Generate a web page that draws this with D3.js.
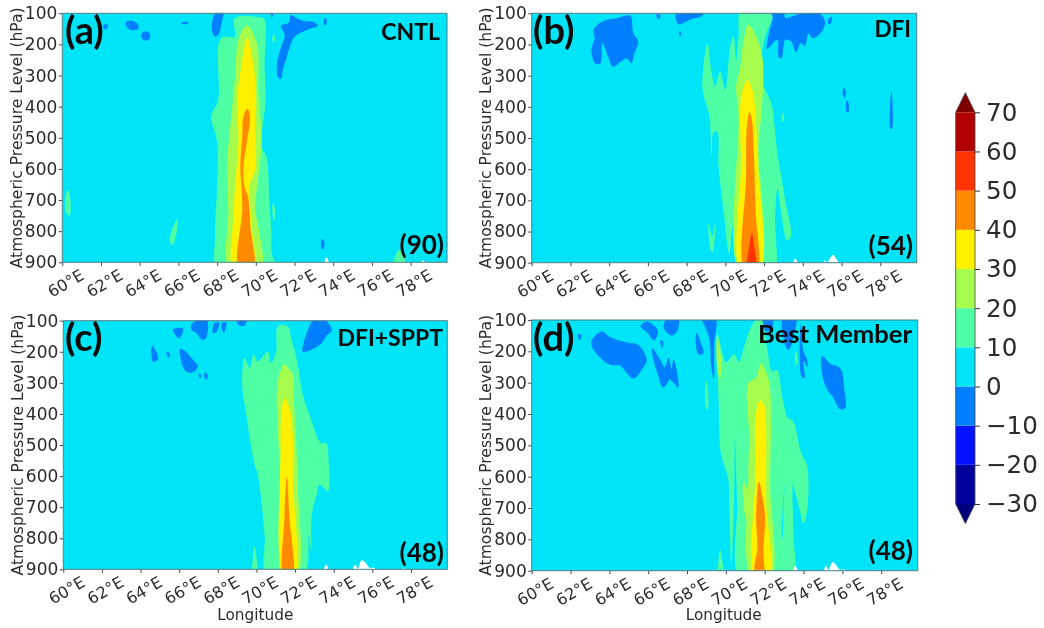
<!DOCTYPE html>
<html>
<head>
<meta charset="utf-8">
<script src="https://cdn.jsdelivr.net/npm/d3@7/dist/d3.min.js"></script>
<style>
  html, body { margin: 0; padding: 0; background: #fff; }
  svg { display: block; filter: blur(0.6px); }
  text { font-family: "DejaVu Sans", sans-serif; fill: #2b2b2b; }
  .note { font-family: Lato, "Open Sans", sans-serif; font-weight: 700; fill: #0a0a0a; }
</style>
</head>
<body>
<svg id="canvas" width="1044" height="628"></svg>
<script>
'use strict';

/* longitude ticks, pressure ticks and colour levels */
const lonTicks = [60, 62, 64, 66, 68, 70, 72, 74, 76, 78];
const pressureTicks = [100, 200, 300, 400, 500, 600, 700, 800, 900];
const levelTicks = [-30, -20, -10, 0, 10, 20, 30, 40, 50, 60, 70];
const levelColors = ['#00009c', '#0012ff', '#0080ff', '#00e4f8', '#4fffa4', '#a6fc4c', '#fff000', '#ff8a00', '#ff3400', '#b00000'];

/* contour outlines, as [longitude, hPa] */
const panelABelow0 = [
  [[63.3,128],[63.6,124],[63.9,135],[63.92,150],[63.5,153],[63.3,140]],
  [[64.1,165],[64.35,158],[64.55,172],[64.4,187],[64.15,183]],
  [[66.15,130],[66.5,128],[66.45,134],[66.2,134]],
  [[68,92],[68.3,95],[68.2,140],[68.1,165],[67.9,175],[67.75,160],[67.75,125]],
  [[71.8,105],[72.1,115],[72.5,125],[73,128],[73.2,140],[72.8,150],[72.4,160],[72,175],[71.8,200],[71.6,240],[71.4,280],[71.3,310],[71.15,305],[71.1,260],[71.3,210],[71.5,170],[71.3,140],[71.7,130]],
  [[62.1,140],[62.35,135],[62.3,150],[62.15,150]],
  [[70.75,100],[70.9,102],[70.85,112]],
  [[73.55,115],[73.65,118],[73.62,138],[73.52,135]],
  [[73.4,826],[73.52,830],[73.52,855],[73.42,858]]
];
const panelA10 = [
  [[68.9,116],[70.2,113],[70.45,120],[70.45,270],[70.5,380],[70.3,530],[70.55,560],[70.7,700],[70.8,805],[70.85,880],[71.2,925],[68.05,925],[67.9,805],[68,655],[68,515],[67.7,430],[68.05,380],[68.2,180],[68.9,175]],
  [[60.3,668],[60.42,700],[60.38,750],[60.2,740],[60.15,700]],
  [[65.95,760],[65.92,800],[65.7,845],[65.55,830],[65.7,790]],
  [[70.9,168],[71,180],[70.92,196],[70.85,180]],
  [[70.9,705],[71,735],[70.95,768],[70.85,735]],
  [[77.4,860],[77.6,870],[77.7,920],[77.1,920]]
];
const panelA20 = [
  [[69.53,138],[69.1,186],[68.93,303],[68.67,475],[68.53,571],[68.58,731],[68.67,925],[70.25,925],[70.13,785],[69.96,731],[70.13,624],[70.3,517],[70.13,357],[70.05,196]]
];
const panelA30 = [
  [[69.56,180],[69.27,261],[69.06,368],[69.1,517],[68.93,656],[68.84,753],[68.87,925],[69.87,925],[69.79,785],[69.7,650],[69.96,603],[69.96,464],[70,357],[69.87,261]]
];
const panelA40 = [
  [[69.56,407],[69.36,432],[69.3,496],[69.2,592],[69.27,667],[69.3,731],[69.13,925],[69.87,925],[69.72,785],[69.6,689],[69.42,660],[69.36,592],[69.53,517],[69.7,432]]
];
const panelAWhite = [
  [[73.55,905],[73.65,884],[73.78,905]],
  [[78.55,905],[78.65,893],[78.75,905]]
];

const panelBBelow0 = [
  [[63.19,153],[63.7,125],[64.39,116],[65.08,107],[65.25,164],[65.5,190],[65.3,230],[65.15,260],[64.9,245],[64.6,255],[64.2,272],[63.95,240],[63.65,195],[63.55,260],[63.3,262],[63.08,220],[63.25,180]],
  [[67.5,92],[68.9,92],[68.8,108],[68.2,120],[67.6,135],[67.45,120]],
  [[66.45,102],[66.65,104],[66.6,118],[66.48,115]],
  [[72.4,92],[73,92],[73.1,115],[73.5,108],[74.6,92],[75,108],[75.15,130],[74.9,165],[74.5,180],[74.3,165],[74.1,205],[73.9,195],[73.65,225],[73.4,190],[73.1,185],[72.9,245],[72.75,240],[72.7,185],[72.55,190],[72.15,215],[72.3,150],[72.45,115]],
  [[75.35,115],[75.5,112],[75.42,135],[75.3,132]],
  [[76.1,340],[76.2,345],[76.18,370],[76.08,365]],
  [[76.25,380],[76.35,385],[76.35,418],[76.25,415]],
  [[78.5,400],[78.58,350],[78.64,400],[78.6,470],[78.52,470]],
  [[67.62,158],[67.72,160],[67.7,172],[67.62,170]]
];
const panelB10 = [
  [[69.08,196],[69.28,285],[69.47,335],[69.73,287],[69.99,346],[70.25,207],[70.42,173],[70.56,250],[70.68,175],[70.8,92],[71.71,92],[72.4,105],[72.06,175],[71.88,229],[71.88,314],[72.23,368],[72.4,394],[72.69,549],[73.09,699],[73.38,817],[73.18,828],[72.87,731],[72.69,660],[72.57,760],[72.55,925],[72.08,925],[71.97,790],[71.85,925],[70.76,925],[70.42,774],[70.2,870],[69.9,731],[69.65,590],[69.58,480],[69.4,480],[69.28,560],[69.18,432],[68.82,341]],
  [[69.13,774],[69.33,815],[69.48,772],[69.45,820],[69.35,865],[69.25,860]],
  [[72.97,420],[73.04,435],[72.98,450],[72.92,435]]
];
const panelB20 = [
  [[71.2,137],[70.95,185],[70.76,277],[70.56,330],[70.68,432],[70.72,925],[71.76,925],[71.71,517],[71.88,410],[71.88,229]]
];
const panelB30 = [
  [[71.14,314],[70.85,357],[70.76,432],[70.82,571],[70.8,925],[71.76,925],[71.66,571],[71.54,410],[71.45,357]]
];
const panelB40 = [
  [[71.25,416],[71.11,464],[71.07,624],[71,925],[71.63,925],[71.56,731],[71.45,517],[71.37,442]]
];
const panelB50 = [
  [[71.37,806],[71.2,860],[71.14,925],[71.59,925],[71.52,860]]
];
const panelBWhite = [
  [[73.5,905],[73.62,886],[73.72,905]],
  [[75.05,905],[75.15,893],[75.25,905]],
  [[75.3,905],[75.55,875],[75.75,890],[75.85,905]]
];

const panelCBelow0 = [
  [[65.68,128],[66.2,125],[66,157]],
  [[66.63,112],[67.4,92],[67.4,155],[67.2,162],[66.9,140],[66.65,130]],
  [[67.8,110],[68.05,105],[67.95,135],[67.75,140]],
  [[68.2,108],[68.45,105],[68.3,140]],
  [[68.95,92],[69.47,92],[69.4,115],[69.1,115]],
  [[64.6,180],[64.85,205],[64.9,225],[64.65,232],[64.55,205]],
  [[65.35,200],[65.5,205],[65.5,218],[65.38,212]],
  [[66.05,190],[66.35,200],[66.7,225],[66.97,245],[66.75,265],[66.4,265],[66.15,240]],
  [[67,272],[67.15,275],[67.1,285]],
  [[67.32,265],[67.48,275],[67.42,290],[67.32,285]],
  [[72.4,200],[72.45,170],[72.7,125],[73,92],[73.5,95],[73.9,130],[73.6,150],[73.4,170],[72.95,190]]
];
const panelC10 = [
  [[71.11,118],[71.62,118],[71.8,156],[71.97,193],[72.14,242],[72.4,338],[72.74,402],[73.35,494],[73.61,494],[73.74,553],[73.69,649],[73.26,628],[73.12,660],[72.86,724],[72.83,842],[72.71,789],[72.43,925],[70.54,925],[70.42,789],[70.07,596],[69.9,563],[69.47,402],[69.26,306],[69.39,220],[69.64,252],[69.85,209],[70.07,231],[70.59,199],[70.76,236],[71.02,199]],
  [[69.9,826],[70.02,870],[70.05,925],[69.78,925],[69.8,870]]
];
const panelC20 = [
  [[71.45,241],[71.11,295],[71.07,413],[71.28,628],[71.37,925],[72.09,925],[72.14,628],[71.93,349],[71.88,274],[71.71,258]]
];
const panelC30 = [
  [[71.45,349],[71.28,413],[71.25,520],[71.42,925],[71.97,925],[71.88,606],[71.88,467],[71.71,381]]
];
const panelC40 = [
  [[71.57,601],[71.45,735],[71.42,925],[71.85,925],[71.71,735]]
];
const panelCWhite = [
  [[73.5,905],[73.6,884],[73.72,905]],
  [[75,905],[75.12,885],[75.25,897],[75.45,870],[75.7,883],[75.85,895],[76.1,896],[76.15,905]],
  [[77.5,905],[77.6,896],[77.72,905]]
];

const panelDBelow0 = [
  [[63.09,165],[63.6,137],[64.04,155],[64.9,172],[65.5,180],[65.93,228],[65.76,250],[65.25,287],[64.9,270],[64.55,245],[64.04,243],[63.61,225],[63.1,185]],
  [[65.6,120],[65.95,105],[66.5,135],[66.3,165],[65.95,140]],
  [[66.8,125],[67,92],[67.55,92],[67.5,135],[67.2,150]],
  [[66.2,190],[66.6,225],[66.85,250],[67.05,220],[67.2,255],[67.3,225],[67.5,270],[67.55,315],[67.3,300],[67.1,290],[66.95,305],[66.75,315],[66.5,275],[66.3,235]],
  [[68.5,140],[68.7,170],[68.85,205],[68.6,210],[68.45,180]],
  [[68.75,92],[69.45,92],[69.4,180],[69.38,290],[69.25,250],[69.15,160],[68.95,125]],
  [[62.4,145],[62.55,148],[62.5,165],[62.42,160]],
  [[66.62,165],[66.78,170],[66.72,190]],
  [[71.8,92],[72.4,92],[72.35,130],[72,135]],
  [[72.95,92],[73.6,92],[73.5,150],[73.3,190],[73.2,195],[73,170]],
  [[73.87,110],[74,200],[74.2,230],[74.2,250],[74,230],[74.05,285],[73.9,280],[73.8,200]],
  [[74.95,215],[75.4,240],[75.9,255],[76.1,320],[76.15,380],[75.9,385],[75.5,345],[75.25,325],[75,285]]
];
const panelD10 = [
  [[69.56,142],[69.8,200],[70,235],[70.42,210],[70.68,233],[70.94,185],[71.4,110],[71.8,92],[71.95,120],[72.15,200],[72.4,265],[72.63,259],[72.92,350],[73.21,415],[73.44,420],[73.87,522],[74.18,564],[74.21,696],[74,749],[73.8,706],[73.57,650],[73.45,625],[73.48,780],[73.5,925],[73,925],[72.95,760],[73.02,625],[72.88,760],[72.85,925],[70.75,925],[70.58,680],[70.47,480],[70.42,680],[70.28,877],[70.18,700],[70.13,610],[69.73,522],[69.65,393]],
  [[69,295],[69.1,340],[69.05,390],[68.95,370],[68.93,330]],
  [[69.7,832],[69.85,880],[69.9,925],[69.55,925],[69.6,880]],
  [[73.6,200],[73.7,225],[73.62,245],[73.55,225]]
];
const panelD20 = [
  [[71.8,238],[71.54,286],[71.16,302],[71.2,468],[71.16,600],[71.33,925],[72.3,925],[72.28,629],[72.32,415],[72.23,297],[71.97,254]],
  [[69.55,150],[69.75,220],[69.7,290],[69.55,250]],
  [[70.9,620],[71.1,640],[71.16,750],[70.98,720]]
];
const panelD30 = [
  [[71.77,356],[71.54,404],[71.54,543],[71.5,628],[71.5,925],[72.24,925],[72.08,682],[72.06,415],[71.97,372]]
];
const panelD40 = [
  [[71.7,616],[71.56,728],[71.62,834],[71.48,880],[71.5,925],[71.92,925],[71.93,834],[72.02,728],[71.88,664]]
];
const panelDWhite = [
  [[73.45,905],[73.58,884],[73.7,905]],
  [[75.05,905],[75.17,885],[75.28,897],[75.5,872],[75.72,885],[75.85,896],[76.15,897],[76.2,905]],
  [[77.5,905],[77.6,896],[77.7,905]]
];

/* the four panels; each entry of layers paints one contour band, lowest first */
const panels = [
  {
    box: { left: 62.3, right: 447, top: 13.3, bottom: 262.3 }, titleX: 17,
    letter: '(a)', name: 'CNTL', count: '(90)', hasXTitle: false, nameSize: 23,
    letterPos: [65, 44], namePos: [440, 40], countPos: [444, 254],
    layers: [[-10, panelABelow0], [10, panelA10], [20, panelA20], [30, panelA30], [40, panelA40]],
    white: panelAWhite
  },
  {
    box: { left: 531.7, right: 916.7, top: 13.3, bottom: 262.7 }, titleX: 486,
    letter: '(b)', name: 'DFI', count: '(54)', hasXTitle: false, nameSize: 22.5,
    letterPos: [533, 44], namePos: [911, 37], countPos: [913, 255],
    layers: [[-10, panelBBelow0], [10, panelB10], [20, panelB20], [30, panelB30], [40, panelB40], [50, panelB50]],
    white: panelBWhite
  },
  {
    box: { left: 63.3, right: 447.3, top: 320.7, bottom: 569.3 }, titleX: 18,
    letter: '(c)', name: 'DFI+SPPT', count: '(48)', hasXTitle: true, nameSize: 23,
    letterPos: [65, 351], namePos: [443, 346], countPos: [444, 562],
    layers: [[-10, panelCBelow0], [10, panelC10], [20, panelC20], [30, panelC30], [40, panelC40]],
    white: panelCWhite
  },
  {
    box: { left: 531.7, right: 917.7, top: 320, bottom: 570.7 }, titleX: 486,
    letter: '(d)', name: 'Best Member', count: '(48)', hasXTitle: true, nameSize: 25.6,
    letterPos: [533, 351], namePos: [912, 343], countPos: [913, 560],
    layers: [[-10, panelDBelow0], [10, panelD10], [20, panelD20], [30, panelD30], [40, panelD40]],
    white: panelDWhite
  }
];

const svg = d3.select('#canvas');
const colorOf = d3.scaleThreshold().domain(levelTicks.slice(1, -1)).range(levelColors);

panels.forEach((panel, i) => plotPanel(panel, i));
plotColorbar();

/**
 * Draw one longitude-pressure section with its axes and notes
 */
function plotPanel(panel, i){
  const box = panel.box;
  const X = d3.scaleLinear().domain([60, 79.88]).range([box.left, box.right]);
  const Y = d3.scaleLinear().domain([100, 900]).range([box.top, box.bottom]);
  const ring = d3.line()
    .x(d => X(d[0]))
    .y(d => Y(d[1]))
    .curve(d3.curveCatmullRomClosed.alpha(0.5));

  svg.append('clipPath').attr('id', 'clip' + i)
    .append('rect')
    .attr('x', box.left).attr('y', box.top)
    .attr('width', box.right - box.left).attr('height', box.bottom - box.top);

  const g = svg.append('g').attr('clip-path', 'url(#clip' + i + ')');
  g.append('rect')
    .attr('x', box.left).attr('y', box.top)
    .attr('width', box.right - box.left).attr('height', box.bottom - box.top)
    .attr('fill', colorOf(5));

  panel.layers.forEach(layer => {
    g.selectAll(null).data(layer[1]).enter().append('path')
      .attr('d', ring)
      .attr('fill', colorOf(layer[0] < 0 ? -5 : layer[0] + 5));
  });
  g.selectAll(null).data(panel.white).enter().append('path')
    .attr('d', ring)
    .attr('fill', '#fff');

  // axes
  const xAxis = svg.append('g')
    .attr('transform', 'translate(0,' + box.bottom + ')')
    .call(d3.axisBottom(X).tickValues(lonTicks).tickFormat(d => d + '°E').tickSize(3.5));
  xAxis.selectAll('text')
    .attr('y', 0).attr('dy', '.35em')
    .attr('text-anchor', 'middle')
    .attr('transform', 'translate(3,21) rotate(-30)')
    .style('font-size', '16px');

  const yAxis = svg.append('g')
    .attr('transform', 'translate(' + box.left + ',0)')
    .call(d3.axisLeft(Y).tickValues(pressureTicks).tickSize(3.5).tickPadding(1.5));
  yAxis.selectAll('text').style('font-size', '17px');

  [xAxis, yAxis].forEach(axis => {
    axis.selectAll('.domain').remove();
    axis.selectAll('line').attr('stroke', '#444');
    axis.selectAll('text').style('font-family', '"DejaVu Sans", sans-serif').attr('fill', '#2b2b2b');
  });

  svg.append('rect')
    .attr('x', box.left).attr('y', box.top)
    .attr('width', box.right - box.left).attr('height', box.bottom - box.top)
    .attr('fill', 'none').attr('stroke', '#4b7d88').attr('stroke-width', 1);

  svg.append('text')
    .attr('transform', 'translate(' + panel.titleX + ',' + (box.top + box.bottom) / 2 + ') rotate(-90)')
    .attr('dy', '.35em').attr('text-anchor', 'middle')
    .style('font-size', '15.6px')
    .text('Atmospheric Pressure Level (hPa)');

  if( panel.hasXTitle ){
    svg.append('text')
      .attr('x', box.left + 192).attr('y', 619.5)
      .attr('text-anchor', 'middle')
      .style('font-size', '15.3px')
      .text('Longitude');
  }

  // notes pasted over the plot
  svg.append('text').attr('class', 'note')
    .attr('x', panel.letterPos[0]).attr('y', panel.letterPos[1])
    .style('font-size', '38px').text(panel.letter);
  svg.append('text').attr('class', 'note')
    .attr('x', panel.namePos[0]).attr('y', panel.namePos[1])
    .attr('text-anchor', 'end')
    .style('font-size', panel.nameSize + 'px').text(panel.name);
  svg.append('text').attr('class', 'note')
    .attr('x', panel.countPos[0]).attr('y', panel.countPos[1])
    .attr('text-anchor', 'end')
    .style('font-size', '26px').text(panel.count);
}

/**
 * Shared colourbar with the extension triangles at both ends
 */
function plotColorbar(){
  const left = 955.7, right = 975;
  const Y = d3.scaleLinear().domain([-30, 70]).range([504, 112.3]);
  const g = svg.append('g');

  g.selectAll('rect').data(levelColors).enter().append('rect')
    .attr('x', left).attr('width', right - left)
    .attr('y', (d, i) => Y(levelTicks[i + 1]))
    .attr('height', (d, i) => Y(levelTicks[i]) - Y(levelTicks[i + 1]))
    .attr('fill', d => d);

  const tri = (end, tip) => 'M' + left + ',' + Y(end) + 'L' + (left + right) / 2 + ',' + Y(tip) + 'L' + right + ',' + Y(end) + 'Z';
  g.append('path').attr('d', tri(70, 75)).attr('fill', '#7f0000');
  g.append('path').attr('d', tri(-30, -35)).attr('fill', '#00007f');

  g.append('path')
    .attr('d', 'M' + left + ',' + Y(70) + 'L' + (left + right) / 2 + ',' + Y(75) + 'L' + right + ',' + Y(70) + 'L' + right + ',' + Y(-30) + 'L' + (left + right) / 2 + ',' + Y(-35) + 'L' + left + ',' + Y(-30) + 'Z')
    .attr('fill', 'none').attr('stroke', '#444').attr('stroke-width', 0.8);

  const axis = svg.append('g')
    .attr('transform', 'translate(' + right + ',0)')
    .call(d3.axisRight(Y).tickValues(levelTicks).tickSize(5).tickPadding(6));
  axis.selectAll('.domain').remove();
  axis.selectAll('line').attr('stroke', '#333');
  axis.selectAll('text')
    .style('font-size', '24.6px')
    .style('font-family', '"DejaVu Sans", sans-serif')
    .attr('fill', '#222');
}
</script>
</body>
</html>
